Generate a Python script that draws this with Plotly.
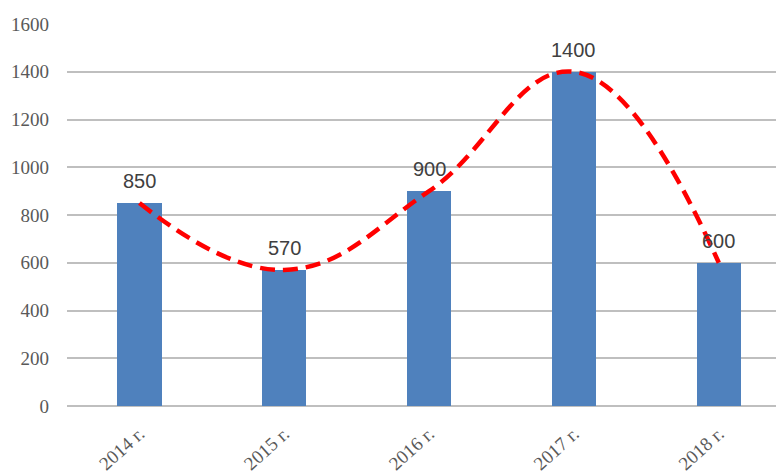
import plotly.graph_objects as go

categories = ["2014 г.", "2015 г.", "2016 г.", "2017 г.", "2018 г."]
values = [850, 570, 900, 1400, 600]
y_ticks = [0, 200, 400, 600, 800, 1000, 1200, 1400, 1600]

fig = go.Figure()
fig.add_trace(go.Bar(
    x=list(range(len(categories))), y=values, width=0.305,
    marker=dict(color="#4F81BD", line=dict(width=0)),
    hoverinfo="skip",
))
fig.add_trace(go.Scatter(
    x=list(range(len(categories))), y=values, mode="lines",
    line=dict(color="#FF0000", width=4.5, dash="15px,8px", shape="spline", smoothing=1.2),
    hoverinfo="skip",
))
for i, v in enumerate(values):
    fig.add_annotation(x=i, y=v, text=str(v), showarrow=False, yshift=22,
                       font=dict(family="Liberation Sans, Arial", size=20, color="#404040"))

fig.update_layout(
    width=784, height=475,
    margin=dict(l=59, r=8, t=16, b=77),
    plot_bgcolor="white", paper_bgcolor="white",
    showlegend=False,
    bargap=0,
)
fig.update_xaxes(
    tickmode="array", tickvals=list(range(len(categories))), ticktext=categories,
    range=[-0.5, 4.45], tickangle=-42, showgrid=False, zeroline=False,
    showline=False, ticks="", automargin=False, ticklabelstandoff=12,
    tickfont=dict(family="Liberation Serif, Times New Roman", size=19, color="#595959"),
)
fig.update_yaxes(
    range=[0, 1600], tickvals=y_ticks, showgrid=True, gridcolor="#BFBFBF", gridwidth=1.5,
    zeroline=True, zerolinecolor="#BFBFBF", zerolinewidth=1.5,
    ticks="", ticklabelstandoff=17, automargin=False,
    tickfont=dict(family="Liberation Serif, Times New Roman", size=19, color="#595959"),
)
fig.write_html("out.html")
